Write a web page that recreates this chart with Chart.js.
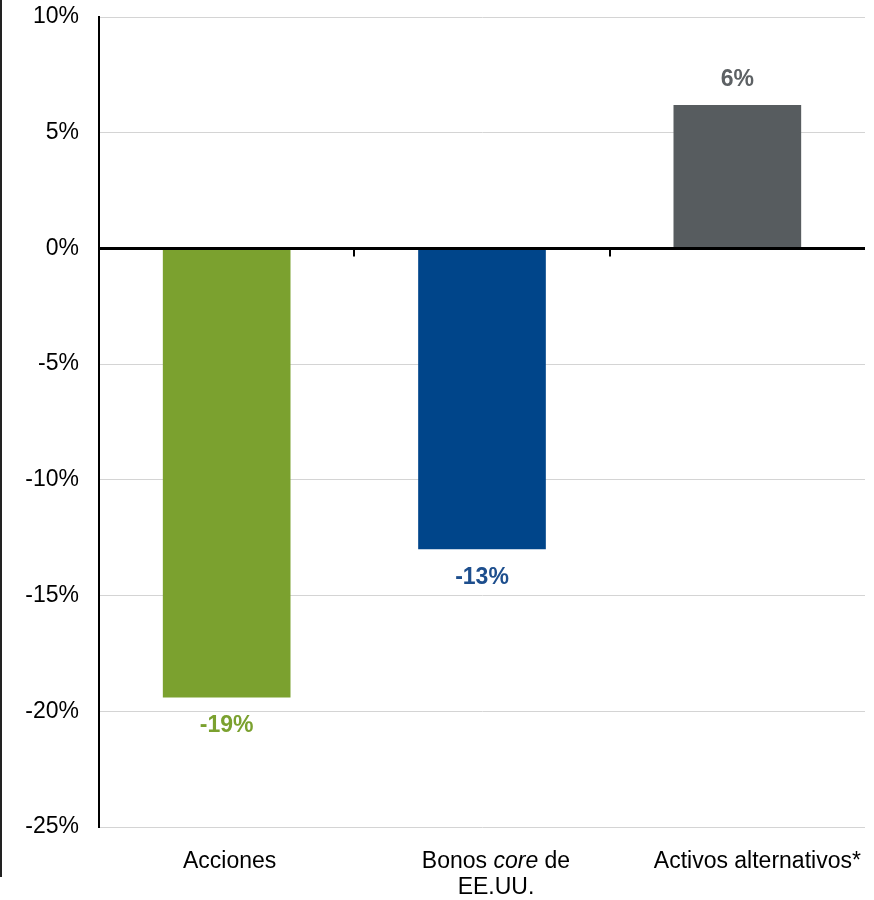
<!DOCTYPE html>
<html>
<head>
<meta charset="utf-8">
<script src="https://cdn.jsdelivr.net/npm/chart.js@4"></script>
<style>
  html, body { margin: 0; padding: 0; background: #fff; }
  #wrap { width: 874px; height: 900px; position: relative; }
</style>
</head>
<body>
<div id="wrap"><canvas id="returnsChart"></canvas></div>
<script>
// values
const categories = ['Acciones', 'Bonos core de EE.UU.', 'Activos alternativos*'];
const returns = [-19.4, -13.0, 6.2];
const valueLabels = ['-19%', '-13%', '6%'];
const yTicks = [10, 5, 0, -5, -10, -15, -20, -25];

// wrapped category text, second item marks italic pieces
const categoryLines = [
    [[['Acciones', false]]],
    [[['Bonos ', false], ['core', true], [' de', false]], [['EE.UU.', false]]],
    [[['Activos alternativos*', false]]]
];

const barColors = ['#7ba12f', '#00458a', '#575c5f'];
const labelColors = ['#7ba12f', '#1d4e8d', '#5d6164'];
const fontFamily = '"Liberation Sans", Arial, sans-serif';

const extras = {
    id: 'extras',
    afterDatasetsDraw(chart) {
        const ctx = chart.ctx;
        const meta = chart.getDatasetMeta(0);
        const x = chart.scales.x;
        const y = chart.scales.y;
        const zeroY = y.getPixelForValue(0);

        ctx.save();
        // left page border
        ctx.strokeStyle = '#222';
        ctx.lineWidth = 2;
        ctx.beginPath();
        ctx.moveTo(1, 0);
        ctx.lineTo(1, 877);
        ctx.stroke();

        // small ticks under the zero line between categories
        ctx.lineWidth = 2;
        ctx.strokeStyle = '#000';
        for (let i = 1; i < categories.length; i++) {
            const bx = Math.round((x.getPixelForValue(i - 1) + x.getPixelForValue(i)) / 2);
            ctx.beginPath();
            ctx.moveTo(bx, zeroY);
            ctx.lineTo(bx, zeroY + 8);
            ctx.stroke();
        }

        // value labels
        ctx.font = 'bold 23px ' + fontFamily;
        ctx.textAlign = 'center';
        ctx.textBaseline = 'middle';
        meta.data.forEach((bar, i) => {
            ctx.fillStyle = labelColors[i];
            const ty = returns[i] >= 0 ? bar.y - 25 : bar.y + 28;
            ctx.fillText(valueLabels[i], bar.x, ty);
        });

        // category labels (with italic piece)
        const shift = [3, 14, 20];
        ctx.fillStyle = '#000';
        ctx.textAlign = 'left';
        categoryLines.forEach((lines, i) => {
            const cx = x.getPixelForValue(i) + shift[i];
            lines.forEach((segs, li) => {
                let w = 0;
                segs.forEach(s => {
                    ctx.font = (s[1] ? 'italic ' : '') + '23px ' + fontFamily;
                    w += ctx.measureText(s[0]).width;
                });
                let sx = cx - w / 2;
                const ly = 862 + li * 26;
                segs.forEach(s => {
                    ctx.font = (s[1] ? 'italic ' : '') + '23px ' + fontFamily;
                    ctx.fillText(s[0], sx, ly);
                    sx += ctx.measureText(s[0]).width;
                });
            });
        });
        ctx.restore();
    }
};

const ctx = document.getElementById('returnsChart').getContext('2d');
const returnsChart = new Chart(ctx, {
    type: 'bar',
    data: {
        labels: categories,
        datasets: [{
            data: returns,
            backgroundColor: barColors,
            borderWidth: 0,
            categoryPercentage: 0.5,
            barPercentage: 1
        }]
    },
    options: {
        responsive: true,
        maintainAspectRatio: false,
        animation: false,
        layout: { padding: { top: 17, right: 9, left: 0, bottom: 0 } },
        plugins: {
            legend: { display: false },
            tooltip: { enabled: false }
        },
        scales: {
            x: {
                grid: { display: false },
                border: { display: false },
                ticks: { display: false },
                afterFit: function(scale) { scale.height = 73; }
            },
            y: {
                min: -25,
                max: 10,
                afterBuildTicks: function(scale) {
                    scale.ticks = yTicks.slice().reverse().map(v => ({ value: v }));
                },
                ticks: {
                    padding: 20,
                    color: '#000',
                    font: { family: fontFamily, size: 23 },
                    callback: v => v + '%'
                },
                grid: {
                    drawTicks: false,
                    color: c => (c.tick && c.tick.value === 0) ? '#000' : '#d4d4d4',
                    lineWidth: c => (c.tick && c.tick.value === 0) ? 3 : 1
                },
                border: { color: '#000', width: 2 },
                afterFit: function(scale) {
                    scale.width = 99;
                    scale.paddingTop = 0;
                    scale.paddingBottom = 0;
                }
            }
        }
    },
    plugins: [extras]
});
</script>
</body>
</html>
